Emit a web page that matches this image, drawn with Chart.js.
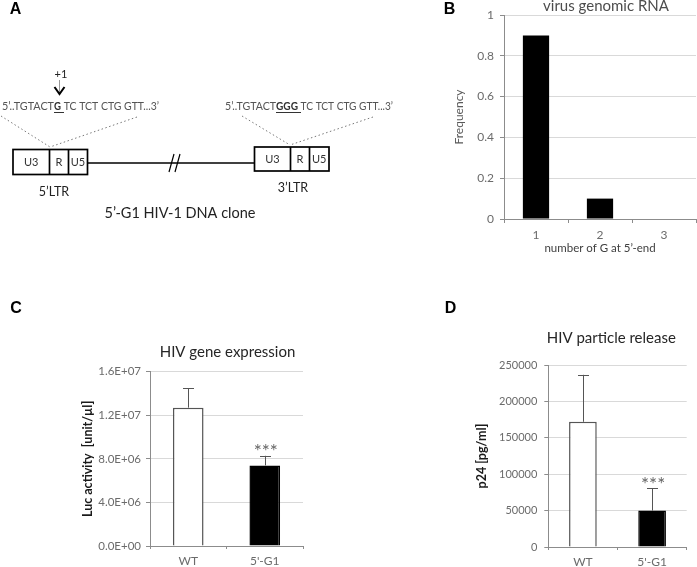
<!DOCTYPE html>
<html><head><meta charset="utf-8">
<script src="https://cdn.jsdelivr.net/npm/chart.js@4"></script>
<style>
html,body{margin:0;padding:0;background:#fff;width:697px;height:567px;overflow:hidden;position:relative}
canvas{position:absolute;display:block}
</style></head><body>
<canvas id="pa" width="440" height="250" style="left:0;top:0"></canvas>
<canvas id="pb" width="297" height="256" style="left:400px;top:0"></canvas>
<canvas id="pc" width="340" height="277" style="left:0;top:290px"></canvas>
<canvas id="pd" width="297" height="277" style="left:400px;top:290px"></canvas>
<script>
// ---------- data ----------
const gCategories = ['1', '2', '3'];
const gFrequency = [0.9, 0.1, 0];
const freqTickLabels = ['0', '0.2', '0.4', '0.6', '0.8', '1'];

const conditions = ['WT', "5'-G1"];
const lucValues = [12.7e6, 7.4e6];
const lucErrors = [1.78e6, 0.88e6];
const lucTickLabels = ['0.0E+00', '4.0E+06', '8.0E+06', '1.2E+07', '1.6E+07'];

const p24Values = [172000, 50000];
const p24Errors = [64500, 30500];
const p24TickLabels = ['0', '50000', '100000', '150000', '200000', '250000'];

const significance = ['', '***'];

// ---------- common ----------
const FONT = 'Lato, "Open Sans", sans-serif';
const TICK = '#6b6b6b';
const AXIS = '#8c8c8c';
const GRID = '#d9d9d9';

const annotPlugin = {
  id: 'annot',
  afterDatasetsDraw(chart) {
    const ctx = chart.ctx;
    const y = chart.scales.y;
    chart.data.datasets.forEach((ds, di) => {
      if (!ds.errors) return;
      const meta = chart.getDatasetMeta(di);
      meta.data.forEach((bar, i) => {
        const top = y.getPixelForValue(ds.data[i] + ds.errors[i]);
        const base = y.getPixelForValue(ds.data[i]);
        ctx.save();
        ctx.strokeStyle = '#555';
        ctx.lineWidth = 1;
        ctx.beginPath();
        ctx.moveTo(Math.round(bar.x) + 0.5, base);
        ctx.lineTo(Math.round(bar.x) + 0.5, top);
        ctx.moveTo(Math.round(bar.x) - 5, Math.round(top) + 0.5);
        ctx.lineTo(Math.round(bar.x) + 6, Math.round(top) + 0.5);
        ctx.stroke();
        if (ds.stars && ds.stars[i]) {
          ctx.fillStyle = '#666';
          ctx.font = '19px ' + FONT;
          ctx.textAlign = 'center';
          ctx.textBaseline = 'middle';
          ctx.fillText(ds.stars[i], bar.x + 1, top - 4);
        }
        ctx.restore();
      });
    });
  },
  afterDraw(chart) {
    const items = (chart.options.plugins.annot || {}).texts || [];
    const ctx = chart.ctx;
    items.forEach(t => {
      ctx.save();
      ctx.font = t.font;
      ctx.fillStyle = t.color;
      ctx.textAlign = 'center';
      ctx.textBaseline = 'middle';
      ctx.fillText(t.text, t.x, t.y);
      ctx.restore();
    });
  }
};
Chart.register(annotPlugin);

function barChart(id, cfg) {
  return new Chart(document.getElementById(id), {
    type: 'bar',
    data: {
      labels: cfg.labels,
      datasets: [{
        data: cfg.values,
        errors: cfg.errors,
        stars: cfg.stars,
        backgroundColor: cfg.fill,
        borderColor: cfg.stroke,
        borderWidth: cfg.borderWidth,
        barPercentage: cfg.barPct,
        categoryPercentage: 1
      }]
    },
    options: {
      responsive: false,
      animation: false,
      events: [],
      layout: { padding: cfg.padding },
      plugins: {
        legend: { display: false },
        tooltip: { enabled: false },
        annot: { texts: cfg.texts }
      },
      scales: {
        x: {
          offset: true,
          grid: { display: true, drawOnChartArea: false, offset: true, tickLength: cfg.xTick, color: AXIS, tickColor: AXIS },
          border: { color: AXIS, width: 1 },
          ticks: { color: TICK, font: { family: FONT, size: cfg.xFont }, padding: cfg.xPad, maxRotation: 0 },
          title: cfg.xTitle,
          afterFit: s => { s.height = cfg.xHeight; }
        },
        y: {
          min: 0, max: cfg.max,
          ticks: { stepSize: cfg.step, color: TICK, font: { family: FONT, size: cfg.yFont }, padding: cfg.yPad,
                   callback: (v, i) => cfg.tickLabels[i] },
          grid: { color: GRID, tickColor: AXIS, tickLength: 4 },
          border: { color: AXIS, width: 1 },
          title: cfg.yTitle,
          afterFit: s => { s.width = cfg.yWidth; }
        }
      }
    }
  });
}

// ---------- panel A (schematic, no data) ----------
(function () {
  const c = document.getElementById('pa');
  const ctx = c.getContext('2d');
  ctx.textBaseline = 'middle';
  function txt(s, x, y, font, color, align) {
    ctx.font = font; ctx.fillStyle = color; ctx.textAlign = align || 'center';
    ctx.fillText(s, x, y);
  }
  txt('A', 15.5, 10, 'bold 16px "Liberation Sans", Arial, sans-serif', '#000');

  // draw a text run stretched/compressed horizontally to span [xa, xb]
  function span(s, xa, xb, y, font, color) {
    ctx.save();
    ctx.font = font; ctx.fillStyle = color; ctx.textAlign = 'left';
    const w = ctx.measureText(s).width;
    ctx.translate(xa, y);
    ctx.scale((xb - xa) / w, 1);
    ctx.fillText(s, 0, 0);
    ctx.restore();
  }
  function seq(x0, g0, g1, x1, y, pre, g, post) {
    const f = '11.5px ' + FONT, fb = 'bold 11.5px ' + FONT;
    span(pre, x0, g0, y, f, '#555');
    span(g, g0, g1, y, fb, '#333');
    span(post, g1, x1, y, f, '#555');
    ctx.strokeStyle = '#333'; ctx.lineWidth = 1;
    ctx.beginPath(); ctx.moveTo(g0, y + 6.5); ctx.lineTo(g1 + 3, y + 6.5); ctx.stroke();
  }
  seq(2, 54, 61, 159, 106, '5\u2019..TGTACT', 'G', ' TC TCT CTG GTT...3\u2019');
  seq(225, 276, 298, 393, 106, '5\u2019..TGTACT', 'GGG', ' TC TCT CTG GTT...3\u2019');

  // +1 marker
  txt('+1', 61, 74, '11px ' + FONT, '#222');
  ctx.strokeStyle = '#999'; ctx.lineWidth = 1;
  ctx.beginPath(); ctx.moveTo(59.5, 80); ctx.lineTo(59.5, 93); ctx.stroke();
  ctx.strokeStyle = '#000'; ctx.lineWidth = 2;
  ctx.beginPath(); ctx.moveTo(54.5, 87); ctx.lineTo(59.5, 94); ctx.lineTo(64.5, 87); ctx.stroke();

  // dotted guides
  ctx.strokeStyle = '#777'; ctx.lineWidth = 1; ctx.setLineDash([1.5, 2.5]);
  ctx.beginPath();
  ctx.moveTo(1, 116); ctx.lineTo(50, 147);
  ctx.moveTo(137, 117); ctx.lineTo(50, 147);
  ctx.moveTo(242, 116); ctx.lineTo(290, 145);
  ctx.moveTo(373, 117); ctx.lineTo(290, 145);
  ctx.stroke();
  ctx.setLineDash([]);

  // backbone line
  ctx.strokeStyle = '#000'; ctx.lineWidth = 1.6;
  ctx.beginPath(); ctx.moveTo(88, 163); ctx.lineTo(254, 163); ctx.stroke();
  ctx.lineWidth = 1.2;
  ctx.beginPath();
  ctx.moveTo(169, 172); ctx.lineTo(174, 154);
  ctx.moveTo(175, 172); ctx.lineTo(180, 154);
  ctx.stroke();

  function ltr(x0, x1, x2, x3, y0, y1) {
    ctx.strokeStyle = '#000'; ctx.lineWidth = 1.7;
    ctx.strokeRect(x0, y0, x3 - x0, y1 - y0);
    ctx.beginPath();
    ctx.moveTo(x1, y0); ctx.lineTo(x1, y1);
    ctx.moveTo(x2, y0); ctx.lineTo(x2, y1);
    ctx.stroke();
    const ym = (y0 + y1) / 2;
    txt('U3', (x0 + x1) / 2, ym, '11px ' + FONT, '#333');
    txt('R', (x1 + x2) / 2, ym, '11px ' + FONT, '#333');
    txt('U5', (x2 + x3) / 2, ym, '11px ' + FONT, '#333');
  }
  ltr(13, 49.5, 68.5, 87.5, 149.5, 174.5);
  ltr(254.5, 290.5, 309.5, 329, 147, 171);

  txt('5\u2019LTR', 54, 192, '12.5px ' + FONT, '#222');
  txt('3\u2019LTR', 293, 188, '12.5px ' + FONT, '#222');
  txt('5\u2019-G1 HIV-1 DNA clone', 180, 213, '14.5px ' + FONT, '#222');
})();

// ---------- panel B ----------
barChart('pb', {
  labels: gCategories, values: gFrequency,
  fill: '#000', stroke: '#000', borderWidth: 0, barPct: 0.41,
  padding: { left: 48, right: 1, top: 15, bottom: 0 },
  max: 1, step: 0.2, tickLabels: freqTickLabels,
  xTick: 4, xPad: 5, xFont: 12, yFont: 12, yPad: 6,
  xHeight: 37, yWidth: 56,
  xTitle: { display: true, text: 'number of G at 5\u2019-end', color: '#404040', font: { family: FONT, size: 11.5 }, padding: { top: 0, bottom: 1 } },
  yTitle: { display: true, text: 'Frequency', color: '#595959', font: { family: FONT, size: 12 }, padding: { top: 4, bottom: 4 } },
  texts: [
    { text: 'virus genomic RNA', x: 206, y: 6, font: '15px ' + FONT, color: '#4d4d4d' },
    { text: 'B', x: 49.5, y: 10, font: 'bold 16px "Liberation Sans", Arial, sans-serif', color: '#000' }
  ]
});

// ---------- panel C ----------
barChart('pc', {
  labels: conditions, values: lucValues, errors: lucErrors, stars: significance,
  fill: ['#fff', '#000'], stroke: ['#555', '#000'], borderWidth: 1.5, barPct: 0.4,
  padding: { left: 76, right: 37, top: 81.7, bottom: 0 },
  max: 1.6e7, step: 4e6, tickLabels: lucTickLabels,
  xTick: 3, xPad: 5, xFont: 12, yFont: 11.5, yPad: 5,
  xHeight: 21, yWidth: 74,
  xTitle: { display: false },
  yTitle: { display: true, text: 'Luc activity  [unit/\u00b5l]', color: '#1a1a1a', font: { family: FONT, size: 12.5, weight: 'bold' }, padding: { top: 4, bottom: 4 } },
  texts: [
    { text: 'HIV gene expression', x: 227.5, y: 61.7, font: '15px ' + FONT, color: '#262626' },
    { text: 'C', x: 16, y: 18.5, font: 'bold 16px "Liberation Sans", Arial, sans-serif', color: '#000' }
  ]
});

// ---------- panel D ----------
barChart('pd', {
  labels: conditions, values: p24Values, errors: p24Errors, stars: significance,
  fill: ['#fff', '#000'], stroke: ['#555', '#000'], borderWidth: 1.5, barPct: 0.4,
  padding: { left: 70, right: 10.3, top: 75, bottom: 0 },
  max: 250000, step: 50000, tickLabels: p24TickLabels,
  xTick: 3, xPad: 5, xFont: 12, yFont: 11, yPad: 7,
  xHeight: 20, yWidth: 78.3,
  xTitle: { display: false },
  yTitle: { display: true, text: 'p24 [pg/ml]', color: '#1a1a1a', font: { family: FONT, size: 12.5, weight: 'bold' }, padding: { top: 4, bottom: 4 } },
  texts: [
    { text: 'HIV particle release', x: 211.3, y: 48.3, font: '15px ' + FONT, color: '#262626' },
    { text: 'D', x: 50.5, y: 18.7, font: 'bold 16px "Liberation Sans", Arial, sans-serif', color: '#000' }
  ]
});
</script>
</body></html>
